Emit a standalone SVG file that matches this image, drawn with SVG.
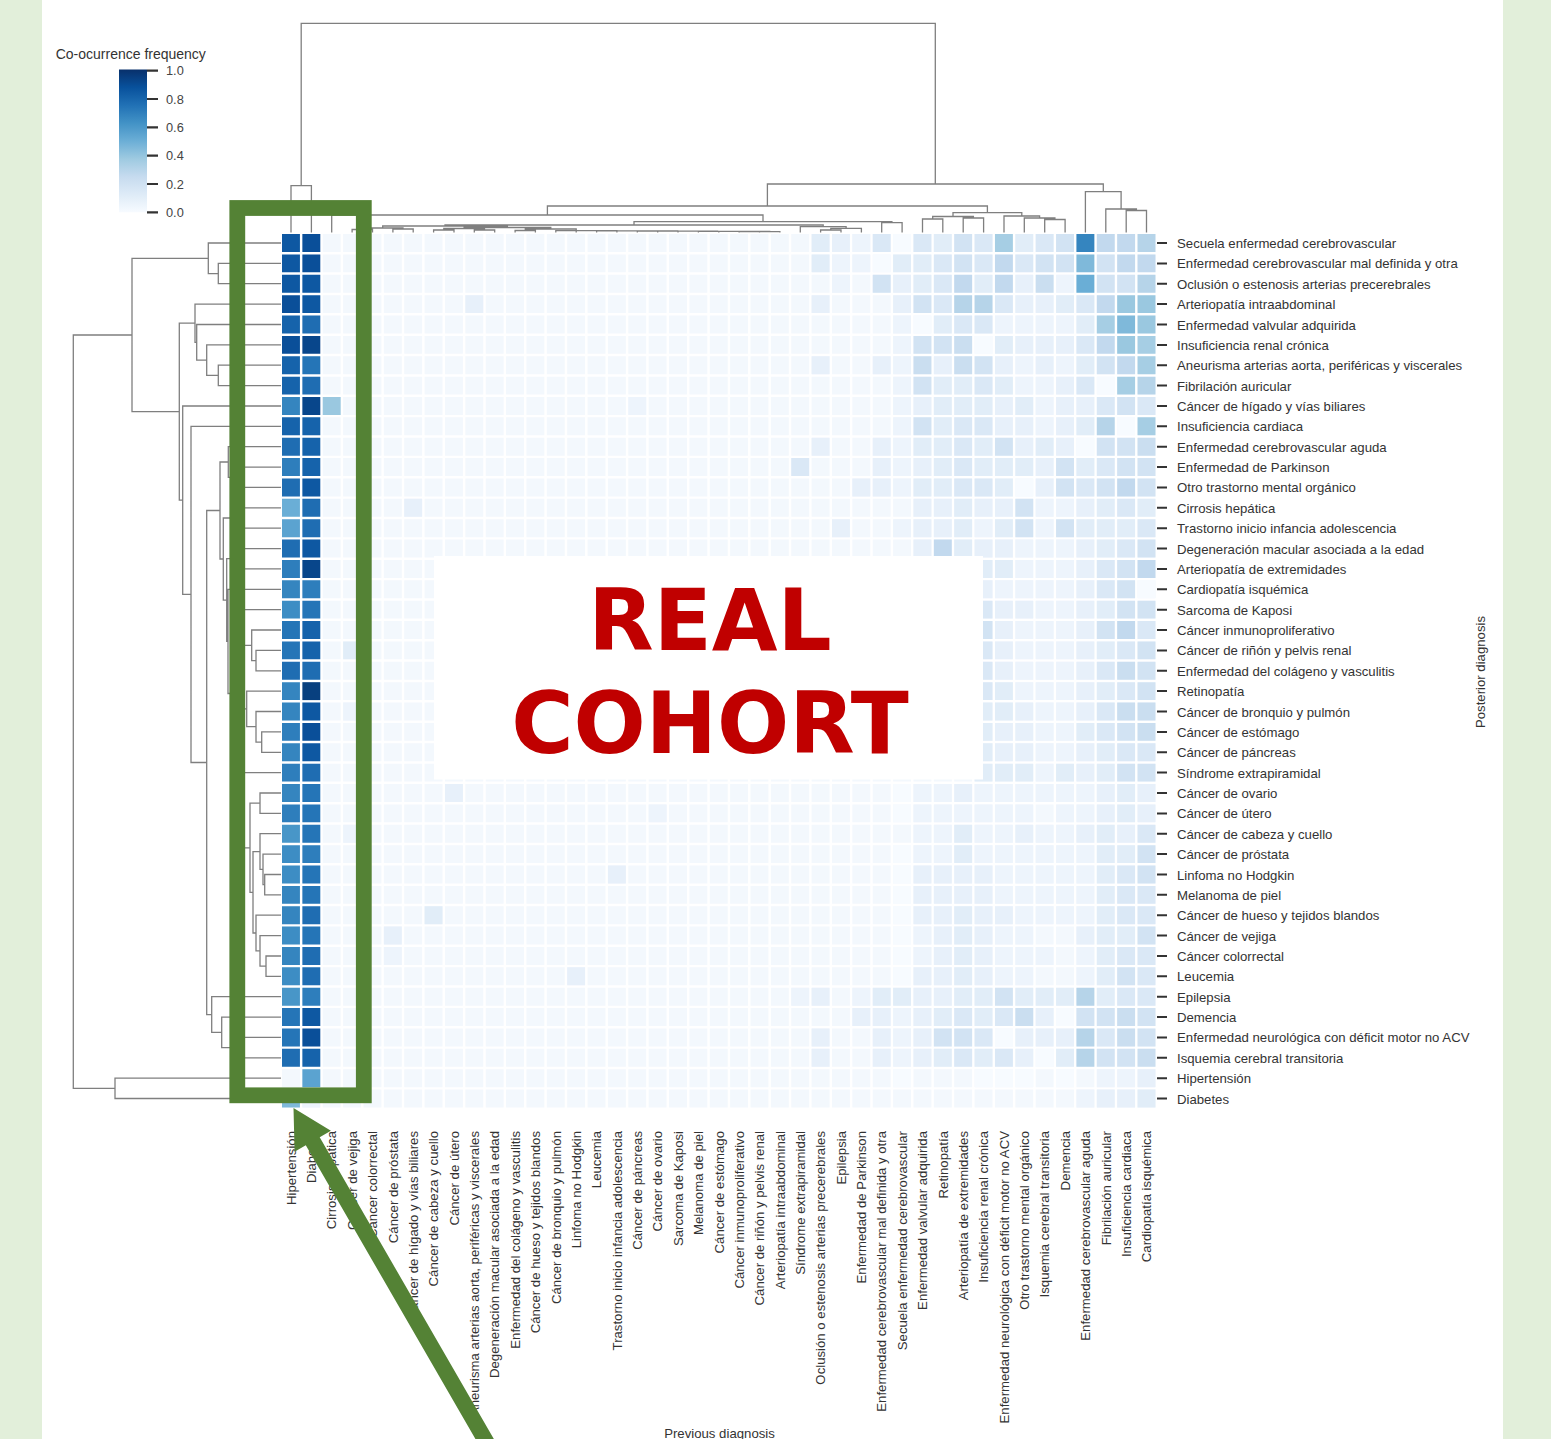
<svg xmlns="http://www.w3.org/2000/svg" width="1551" height="1439" viewBox="0 0 1551 1439">
<style>
.t{font-family:"Liberation Sans",Arial,sans-serif;font-size:13.2px;fill:#333}
.cb{font-family:"Liberation Sans",Arial,sans-serif;font-size:12.8px;fill:#444}
.dg{fill:none;stroke:#7f7f7f;stroke-width:1.3}
.big{font-family:"DejaVu Sans",Verdana,sans-serif;font-weight:bold;font-size:85px;fill:#c00000;text-anchor:middle}
</style>
<defs>
<linearGradient id="blues" x1="0" y1="0" x2="0" y2="1">
<stop offset="0" stop-color="#08306b"/><stop offset=".125" stop-color="#08519c"/><stop offset=".25" stop-color="#2171b5"/><stop offset=".375" stop-color="#4292c6"/><stop offset=".5" stop-color="#6baed6"/><stop offset=".625" stop-color="#9ecae1"/><stop offset=".75" stop-color="#c6dbef"/><stop offset=".875" stop-color="#deebf7"/><stop offset="1" stop-color="#f7fbff"/>
</linearGradient>
</defs>
<rect width="1551" height="1439" fill="#e2efda"/>
<rect x="42" y="0" width="1461" height="1439" fill="#fff"/>

<g id="colorbar">
<text class="t" x="55.7" y="58.5" style="font-size:14px">Co-ocurrence frequency</text>
<rect x="119" y="69.5" width="28" height="142.8" fill="url(#blues)"/>
<path d="M147 70.7h11M147 99h11M147 127.4h11M147 155.7h11M147 184h11M147 212.3h11" stroke="#333" stroke-width="2.2"/>
<text class="cb" x="166" y="75.2">1.0</text>
<text class="cb" x="166" y="103.5">0.8</text>
<text class="cb" x="166" y="131.9">0.6</text>
<text class="cb" x="166" y="160.2">0.4</text>
<text class="cb" x="166" y="188.5">0.2</text>
<text class="cb" x="166" y="216.8">0.0</text>
</g>

<g id="dendrogram-top" class="dg">
<path d="M301.2 185.7V23.3H935.3V184M291 232.5V185.7H311.4V232.5M767.4 206V184H1103.3V191.7M1085.4 232.5V191.7H1121.1V209M1105.8 232.5V209H1136.4V210.5M1126.2 232.5V210.5H1146.5V232.5M547.4 215V206H987.4V212.7M953 216.5V212.7H1021.8V216M932.7 219V216.5H973.4V218M922.5 232.5V219H942.8V232.5M963.2 232.5V218H983.6V232.5M1004 232.5V216H1039.6V218M1024.3 232.5V218H1054.9V219.5M1044.7 232.5V219.5H1065.1V232.5M331.7 232.5V215H763V221.7M634 225V221.7H891.9V222.7M881.7 232.5V222.7H902.1V232.5M445 226V225H823.2V226.7M800.3 232.5V226.7H846.1V228.3M830.8 230V228.3H861.4V232.5M820.6 232.5V230H841V232.5M382.7 228V226H507.4V227.5M362.3 229.5V228H403V229M352.1 232.5V229.5H372.5V232.5M392.9 232.5V229H413.2V232.5M464.1 228.5V227.5H550.8V229M443.8 230V228.5H484.5V230M433.6 232.5V230H454V232.5M474.3 232.5V230H494.7V232.5M525.3 230.5V229H576.2V230.6M515.1 232.5V230.5H535.4V232.5M555.8 232.5V230.6H596.5V230.7M576.2 232.5V230.7H616.9V230.8M596.6 232.5V230.8H637.2V230.9M616.9 232.5V230.9H657.5V231M637.3 232.5V231H677.7V231.1M657.7 232.5V231.1H697.8V231.2M678 232.5V231.2H717.5V231.3M698.4 232.5V231.3H736.6V231.4M718.8 232.5V231.4H754.4V231.5M739.1 232.5V231.5H769.7V231.6M759.5 232.5V231.6H779.9V232.5"/>
</g>

<g id="dendrogram-left" class="dg">
<path d="M115 1088.4H73.3V335H132M208.3 258.3H132V411.7H179.3M195 323.2H179.3V500.2H182.7M281 406H182.7V594.4H191M281 426.3H191V762.5H206.7M220 510.5H206.7V1014.6H211.7M281 996.7H211.7V1032.3H221.7M281 1017.1H221.7V1047.6H233M281 1037.4H233V1057.8H281M281 1078.2H115V1098.5H281M281 243H208.3V273.6H218.3M281 263.4H218.3V283.7H281M281 304.1H195V342.3H196.7M281 324.5H196.7V360.2H206.7M281 344.9H206.7V375.4H218.3M281 365.2H218.3V385.6H281M228.3 462H220V559H223.3M281 446.7H228.3V477.3H231M281 467.1H231V487.4H281M232 518H223.3V600.1H226.7M281 507.8H232V528.2H281M232 558.7H226.7V641.4H228M281 548.6H232V568.9H281M281 589.3H228V693.5H233M240 627.5H233V759.5H237M281 609.7H240V645.3H251.7M281 630H251.7V660.6H256M281 650.4H256V670.8H281M246.7 708.9H237V810.2H240M281 691.1H246.7V726.7H256M281 711.5H256V742.1H261.7M281 731.9H261.7V752.3H281M281 772.6H240V847.8H250M260 803.2H250V892.3H253M281 793H260V813.4H281M260 851.6H253V933H256M281 833.7H260V869.4H263M281 854.1H263V884.7H264.7M281 874.5H264.7V894.8H281M281 915.2H256V950.9H260M281 935.6H260V966.1H266M281 956H266V976.3H281"/>
</g>

<g id="heatmap" transform="translate(282 243) scale(20.37)" fill="none" stroke-width=".88" stroke-dasharray=".88 .12">
<path stroke="#f3f8fd" d="M0 0h43M0 1h43M0 2h43M0 3h43M0 4h43M0 5h43M0 6h43M0 7h43M0 8h43M0 9h43M0 10h43M0 11h43M0 12h43M0 13h43M0 14h43M0 15h43M0 16h43M0 17h43M0 18h43M0 19h43M0 20h43M0 21h43M0 22h43M0 23h43M0 24h43M0 25h43M0 26h43M0 27h43M0 28h43M0 29h43M0 30h43M0 31h43M0 32h43M0 33h43M0 34h43M0 35h43M0 36h43M0 37h43M0 38h43M0 39h43M0 40h43M0 41h43M0 42h43"/>
<path stroke="#f7fbff" d="M30 0h.88M31 4h.88M34 5h.88M40 7h.88M41 9h.88M39 10h.88M36 12h.88M42 17h.88M30 27h.88M30 28h.88M30 30h.88M30 31h.88M30 32h.88M30 33h.88M30 34h.88M30 35h.88M30 36h.88M38 38h.88M35 39h.88M37 40h.88M30 41h.88M34 41h.88M35 41h.88M36 41h.88M38 41h.88M29 1h.88"/>
<path stroke="#edf4fc" d="M38 2h.88M30 4h.88M35 4h3.88M30 5h.88M30 6h.88M36 6h.88M38 6h.88M30 7h.88M36 7h1.88M30 8h.88M37 8h.88M30 9h.88M37 9h.88M30 10h.88M30 11h.88M30 12h.88M37 13h1.88M30 14h.88M34 14h.88M37 14h.88M36 15h2.88M36 16h2.88M35 17h3.88M37 18h1.88M36 19h2.88M36 20h2.88M36 21h2.88M36 22h2.88M37 23h1.88M37 24h1.88M37 25h1.88M37 26h.88M31 27h1.88M34 27h5.88M31 28h5.88M38 28h1.88M31 29h1.88M34 29h1.88M37 29h1.88M31 30h1.88M34 30h5.88M35 31h4.88M35 32h4.88M36 33h3.88M31 34h.88M35 34h1.88M31 35h.88M35 35h2.88M39 35h.88M35 36h1.88M39 36h.88M30 38h.88M30 39h.88M30 40h.88M40 41h1.88M39 42h.88M28 0h.88M27 1h1.88M27 2h.88M17 8h.88M18 28h.88M25 37h.88M28 37h.88M1 42h.88M3 23h.88M3 29h.88M5 35h.88"/>
<path stroke="#e7f0fa" d="M30 2h.88M36 2h.88M30 3h.88M36 3h1.88M36 5h2.88M32 6h.88M35 6h.88M37 6h.88M38 7h.88M31 8h.88M35 8h.88M38 8h1.88M35 9h1.88M38 9h.88M36 10h.88M38 10h.88M31 11h.88M37 11h.88M37 12h.88M31 13h1.88M34 13h1.88M39 13h.88M31 14h1.88M31 15h.88M34 15h1.88M39 15h.88M39 16h.88M34 17h.88M39 17h.88M35 18h1.88M39 18h.88M35 19h.88M39 19h.88M35 20h.88M39 20h.88M35 21h.88M39 21h.88M39 22h.88M36 23h.88M39 23h.88M35 24h1.88M35 25h1.88M39 25h.88M39 26h.88M33 27h.88M40 27h.88M42 27h.88M40 28h.88M42 28h.88M36 29h.88M39 29h.88M41 29h.88M31 31h3.88M31 32h3.88M31 33h1.88M34 33h1.88M32 34h.88M34 34h.88M39 34h.88M32 35h.88M34 35h.88M31 36h1.88M34 36h.88M31 37h1.88M31 38h.88M37 38h.88M31 39h.88M36 39h2.88M31 40h.88M36 40h.88M42 41h.88M40 42h1.88M27 0h.88M9 3h.88M26 3h.88M26 6h.88M29 6h.88M26 10h.88M29 10h.88M29 11h.88M28 12h1.88M6 13h.88M27 14h.88M8 27h.88M16 31h.88M5 34h.88M14 36h.88M26 37h.88M28 38h1.88M26 39h.88M29 39h.88M26 40h.88M29 40h.88"/>
<path stroke="#e1edf8" d="M32 0h.88M36 0h.88M30 1h1.88M31 2h.88M34 2h.88M38 3h.88M32 4h.88M39 4h.88M35 5h.88M39 6h.88M32 7h1.88M35 7h.88M32 8h2.88M36 8h.88M32 9h.88M39 9h.88M31 10h1.88M34 10h.88M37 10h.88M32 11h.88M34 11h2.88M39 11h.88M31 12h1.88M35 12h.88M33 13h.88M40 13h.88M42 13h.88M33 14h.88M35 14h.88M39 14h2.88M33 15h.88M40 15h.88M34 16h1.88M40 18h.88M40 20h.88M35 22h.88M40 22h.88M34 23h1.88M34 24h.88M39 24h.88M34 25h.88M40 25h.88M34 26h2.88M38 26h.88M40 26h.88M41 27h.88M41 28h.88M33 29h.88M40 29h.88M33 30h.88M40 30h1.88M40 31h.88M40 32h.88M33 33h.88M40 33h.88M33 34h.88M40 34h1.88M33 35h.88M40 35h.88M33 36h.88M40 36h.88M30 37h.88M33 37h1.88M36 37h2.88M40 37h.88M32 38h.88M34 38h.88M32 40h.88M34 40h.88M38 40h.88M42 42h.88M26 0h.88M26 1h.88M3 20h.88M7 33h.88M29 37h.88"/>
<path stroke="#dae8f6" d="M31 0h.88M34 0h.88M37 0h.88M32 1h.88M34 1h.88M36 1h.88M32 2h.88M32 3h.88M35 3h.88M39 3h.88M33 4h1.88M39 5h.88M34 7h.88M39 7h.88M40 8h.88M42 8h.88M33 9h1.88M33 10h.88M33 11h.88M40 11h.88M33 12h1.88M39 12h.88M41 13h.88M42 14h.88M41 15h.88M40 16h.88M40 17h.88M34 18h.88M42 19h.88M34 20h.88M41 20h.88M34 21h.88M40 21h.88M34 22h.88M41 22h.88M40 23h.88M40 24h.88M41 25h1.88M42 29h.88M41 31h.88M41 32h1.88M41 33h1.88M41 35h1.88M42 36h.88M41 37h1.88M33 38h.88M35 38h.88M34 39h.88M40 39h.88M33 40h.88M35 40h.88M29 0h.88M25 11h.88"/>
<path stroke="#d2e3f3" d="M33 0h.88M38 0h.88M33 1h.88M37 1h1.88M40 1h.88M40 2h1.88M31 3h.88M31 5h1.88M34 6h.88M40 6h.88M31 7h.88M41 8h.88M31 9h.88M35 10h.88M40 10h1.88M38 11h.88M41 11h1.88M38 12h.88M40 12h.88M42 12h.88M36 13h.88M36 14h.88M38 14h.88M42 15h.88M41 16h.88M41 17h.88M41 18h1.88M34 19h.88M40 19h.88M42 20h.88M42 21h.88M42 22h.88M41 24h.88M41 26h1.88M42 30h.88M42 31h.88M42 34h.88M41 36h.88M35 37h.88M39 38h1.88M42 38h.88M32 39h1.88M42 39h.88M40 40h1.88M29 2h.88"/>
<path stroke="#cadef0" d="M37 2h.88M33 5h.88M31 6h.88M33 6h.88M42 10h.88M41 21h.88M41 23h1.88M42 24h.88M36 38h.88M41 38h.88M41 39h.88M42 40h.88"/>
<path stroke="#c2d9ee" d="M40 0h1.88M35 1h.88M41 1h1.88M33 2h.88M35 2h.88M40 3h.88M40 5h.88M41 6h.88M41 12h.88M32 15h.88M42 16h.88M41 19h.88"/>
<path stroke="#b6d4e9" d="M42 0h.88M42 2h.88M33 3h1.88M42 7h.88M40 9h.88M39 37h.88M39 39h.88M39 40h.88"/>
<path stroke="#a6cee4" d="M35 0h.88M40 4h.88M42 5h.88M42 6h.88M41 7h.88M42 9h.88"/>
<path stroke="#9ac8e0" d="M41 3h1.88M42 4h.88M41 5h.88M2 8h.88"/>
<path stroke="#7fb9da" d="M39 1h.88M41 4h.88M0 42h.88"/>
<path stroke="#6aaed6" d="M39 2h.88M0 13h.88"/>
<path stroke="#5ba3d0" d="M0 14h.88M1 41h.88"/>
<path stroke="#4896c8" d="M0 29h.88M0 37h.88"/>
<path stroke="#3d8dc4" d="M0 18h.88M0 30h.88M0 31h.88M0 34h.88M0 36h.88"/>
<path stroke="#3585bf" d="M39 0h.88M0 8h.88M0 17h.88M0 22h.88M0 23h.88M0 25h.88M0 27h.88M0 32h.88M0 33h.88M0 35h.88"/>
<path stroke="#2e7ebc" d="M0 11h.88M0 16h.88M1 17h.88M0 24h.88M0 26h.88M0 28h.88M1 30h.88M1 37h.88"/>
<path stroke="#2575b7" d="M1 6h.88M1 18h.88M0 19h.88M0 20h.88M1 27h.88M1 28h.88M1 29h.88M1 31h.88M1 32h.88M1 34h.88M0 38h.88M0 39h.88"/>
<path stroke="#1f6db2" d="M1 4h.88M1 7h.88M0 10h.88M0 12h.88M1 13h.88M1 14h.88M0 15h.88M0 21h1.88M1 26h.88M1 33h.88M1 35h.88M1 36h.88M0 40h.88"/>
<path stroke="#1663ab" d="M0 4h.88M0 6h.88M0 7h.88M0 9h1.88M1 10h.88M1 11h.88M1 19h.88M1 20h.88M1 40h.88"/>
<path stroke="#0e58a2" d="M0 0h.88M0 1h.88M0 2h1.88M1 3h.88M1 12h.88M1 15h.88M1 23h.88M1 25h.88M1 38h.88"/>
<path stroke="#0a4f99" d="M1 0h.88M1 1h.88M0 3h.88M0 5h.88M1 24h.88M1 39h.88"/>
<path stroke="#08468b" d="M1 5h.88M1 8h.88M1 16h.88"/>
<path stroke="#08407f" d="M1 22h.88"/>
</g>

<g id="row-ticks">
<path stroke="#333" stroke-width="2" d="M1157 243h10M1157 263.4h10M1157 283.7h10M1157 304.1h10M1157 324.5h10M1157 344.9h10M1157 365.2h10M1157 385.6h10M1157 406h10M1157 426.3h10M1157 446.7h10M1157 467.1h10M1157 487.4h10M1157 507.8h10M1157 528.2h10M1157 548.6h10M1157 568.9h10M1157 589.3h10M1157 609.7h10M1157 630h10M1157 650.4h10M1157 670.8h10M1157 691.1h10M1157 711.5h10M1157 731.9h10M1157 752.3h10M1157 772.6h10M1157 793h10M1157 813.4h10M1157 833.7h10M1157 854.1h10M1157 874.5h10M1157 894.8h10M1157 915.2h10M1157 935.6h10M1157 956h10M1157 976.3h10M1157 996.7h10M1157 1017.1h10M1157 1037.4h10M1157 1057.8h10M1157 1078.2h10M1157 1098.5h10"/>
</g>

<g id="row-labels" class="t">
<text x="1177" y="248">Secuela enfermedad cerebrovascular</text>
<text x="1177" y="268.4">Enfermedad cerebrovascular mal definida y otra</text>
<text x="1177" y="288.7">Oclusión o estenosis arterias precerebrales</text>
<text x="1177" y="309.1">Arteriopatía intraabdominal</text>
<text x="1177" y="329.5">Enfermedad valvular adquirida</text>
<text x="1177" y="349.9">Insuficiencia renal crónica</text>
<text x="1177" y="370.2">Aneurisma arterias aorta, periféricas y viscerales</text>
<text x="1177" y="390.6">Fibrilación auricular</text>
<text x="1177" y="411">Cáncer de hígado y vías biliares</text>
<text x="1177" y="431.3">Insuficiencia cardiaca</text>
<text x="1177" y="451.7">Enfermedad cerebrovascular aguda</text>
<text x="1177" y="472.1">Enfermedad de Parkinson</text>
<text x="1177" y="492.4">Otro trastorno mental orgánico</text>
<text x="1177" y="512.8">Cirrosis hepática</text>
<text x="1177" y="533.2">Trastorno inicio infancia adolescencia</text>
<text x="1177" y="553.6">Degeneración macular asociada a la edad</text>
<text x="1177" y="573.9">Arteriopatía de extremidades</text>
<text x="1177" y="594.3">Cardiopatía isquémica</text>
<text x="1177" y="614.7">Sarcoma de Kaposi</text>
<text x="1177" y="635">Cáncer inmunoproliferativo</text>
<text x="1177" y="655.4">Cáncer de riñón y pelvis renal</text>
<text x="1177" y="675.8">Enfermedad del colágeno y vasculitis</text>
<text x="1177" y="696.1">Retinopatía</text>
<text x="1177" y="716.5">Cáncer de bronquio y pulmón</text>
<text x="1177" y="736.9">Cáncer de estómago</text>
<text x="1177" y="757.3">Cáncer de páncreas</text>
<text x="1177" y="777.6">Síndrome extrapiramidal</text>
<text x="1177" y="798">Cáncer de ovario</text>
<text x="1177" y="818.4">Cáncer de útero</text>
<text x="1177" y="838.7">Cáncer de cabeza y cuello</text>
<text x="1177" y="859.1">Cáncer de próstata</text>
<text x="1177" y="879.5">Linfoma no Hodgkin</text>
<text x="1177" y="899.8">Melanoma de piel</text>
<text x="1177" y="920.2">Cáncer de hueso y tejidos blandos</text>
<text x="1177" y="940.6">Cáncer de vejiga</text>
<text x="1177" y="961">Cáncer colorrectal</text>
<text x="1177" y="981.3">Leucemia</text>
<text x="1177" y="1001.7">Epilepsia</text>
<text x="1177" y="1022.1">Demencia</text>
<text x="1177" y="1042.4">Enfermedad neurológica con déficit motor no ACV</text>
<text x="1177" y="1062.8">Isquemia cerebral transitoria</text>
<text x="1177" y="1083.2">Hipertensión</text>
<text x="1177" y="1103.5">Diabetes</text>
</g>

<g id="col-labels" class="t" text-anchor="end">
<text transform="translate(295.7 1131) rotate(-90)">Hipertensión</text>
<text transform="translate(316.1 1131) rotate(-90)">Diabetes</text>
<text transform="translate(336.4 1131) rotate(-90)">Cirrosis hepática</text>
<text transform="translate(356.8 1131) rotate(-90)">Cáncer de vejiga</text>
<text transform="translate(377.2 1131) rotate(-90)">Cáncer colorrectal</text>
<text transform="translate(397.6 1131) rotate(-90)">Cáncer de próstata</text>
<text transform="translate(417.9 1131) rotate(-90)">Cáncer de hígado y vías biliares</text>
<text transform="translate(438.3 1131) rotate(-90)">Cáncer de cabeza y cuello</text>
<text transform="translate(458.7 1131) rotate(-90)">Cáncer de útero</text>
<text transform="translate(479 1131) rotate(-90)">Aneurisma arterias aorta, periféricas y viscerales</text>
<text transform="translate(499.4 1131) rotate(-90)">Degeneración macular asociada a la edad</text>
<text transform="translate(519.8 1131) rotate(-90)">Enfermedad del colágeno y vasculitis</text>
<text transform="translate(540.1 1131) rotate(-90)">Cáncer de hueso y tejidos blandos</text>
<text transform="translate(560.5 1131) rotate(-90)">Cáncer de bronquio y pulmón</text>
<text transform="translate(580.9 1131) rotate(-90)">Linfoma no Hodgkin</text>
<text transform="translate(601.3 1131) rotate(-90)">Leucemia</text>
<text transform="translate(621.6 1131) rotate(-90)">Trastorno inicio infancia adolescencia</text>
<text transform="translate(642 1131) rotate(-90)">Cáncer de páncreas</text>
<text transform="translate(662.4 1131) rotate(-90)">Cáncer de ovario</text>
<text transform="translate(682.7 1131) rotate(-90)">Sarcoma de Kaposi</text>
<text transform="translate(703.1 1131) rotate(-90)">Melanoma de piel</text>
<text transform="translate(723.5 1131) rotate(-90)">Cáncer de estómago</text>
<text transform="translate(743.8 1131) rotate(-90)">Cáncer inmunoproliferativo</text>
<text transform="translate(764.2 1131) rotate(-90)">Cáncer de riñón y pelvis renal</text>
<text transform="translate(784.6 1131) rotate(-90)">Arteriopatía intraabdominal</text>
<text transform="translate(805 1131) rotate(-90)">Síndrome extrapiramidal</text>
<text transform="translate(825.3 1131) rotate(-90)">Oclusión o estenosis arterias precerebrales</text>
<text transform="translate(845.7 1131) rotate(-90)">Epilepsia</text>
<text transform="translate(866.1 1131) rotate(-90)">Enfermedad de Parkinson</text>
<text transform="translate(886.4 1131) rotate(-90)">Enfermedad cerebrovascular mal definida y otra</text>
<text transform="translate(906.8 1131) rotate(-90)">Secuela enfermedad cerebrovascular</text>
<text transform="translate(927.2 1131) rotate(-90)">Enfermedad valvular adquirida</text>
<text transform="translate(947.5 1131) rotate(-90)">Retinopatía</text>
<text transform="translate(967.9 1131) rotate(-90)">Arteriopatía de extremidades</text>
<text transform="translate(988.3 1131) rotate(-90)">Insuficiencia renal crónica</text>
<text transform="translate(1008.7 1131) rotate(-90)">Enfermedad neurológica con déficit motor no ACV</text>
<text transform="translate(1029 1131) rotate(-90)">Otro trastorno mental orgánico</text>
<text transform="translate(1049.4 1131) rotate(-90)">Isquemia cerebral transitoria</text>
<text transform="translate(1069.8 1131) rotate(-90)">Demencia</text>
<text transform="translate(1090.1 1131) rotate(-90)">Enfermedad cerebrovascular aguda</text>
<text transform="translate(1110.5 1131) rotate(-90)">Fibrilación auricular</text>
<text transform="translate(1130.9 1131) rotate(-90)">Insuficiencia cardiaca</text>
<text transform="translate(1151.2 1131) rotate(-90)">Cardiopatía isquémica</text>
</g>

<g id="axis-titles" class="t" text-anchor="middle">
<text x="719.5" y="1438">Previous diagnosis</text>
<text transform="translate(1485 672) rotate(-90)">Posterior diagnosis</text>
</g>

<g id="real-cohort">
<rect x="434" y="556" width="549" height="223.5" fill="#fff"/>
<text class="big" x="710" y="650">REAL</text>
<text class="big" x="710" y="753">COHORT</text>
</g>

<g id="highlight-box">
<rect x="237.3" y="208" width="126.5" height="887.3" fill="none" stroke="#548235" stroke-width="15.8"/>
</g>

<g id="arrow">
<polygon points="293.5,1108 330.9,1130.8 319.7,1137.3 497.9,1446 484.1,1454 305.8,1145.3 294.6,1151.8" fill="#548235"/>
</g>
</svg>
